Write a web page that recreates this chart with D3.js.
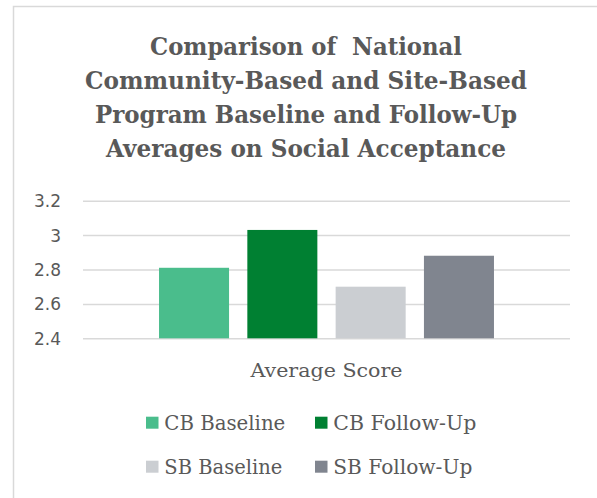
<!DOCTYPE html>
<html>
<head>
<meta charset="utf-8">
<script src="https://cdn.jsdelivr.net/npm/d3@7"></script>
<style>
  html, body { margin: 0; padding: 0; background: #ffffff; }
  svg { display: block; }
</style>
</head>
<body>
<svg id="chart" width="597" height="498"></svg>
<script>
// ---- data ----
const titleLines = [
  "Comparison of  National",
  "Community-Based and Site-Based",
  "Program Baseline and Follow-Up",
  "Averages on Social Acceptance"
];
const categories = ["Average Score"];
const seriesNames = ["CB Baseline", "CB Follow-Up", "SB Baseline", "SB Follow-Up"];
const seriesValues = [2.81, 3.03, 2.70, 2.88];
const seriesColors = ["#4abd8c", "#008032", "#cbced2", "#80858f"];
const tickValues = [2.4, 2.6, 2.8, 3.0, 3.2];
const tickLabels = ["2.4", "2.6", "2.8", "3", "3.2"];

// ---- layout ----
const W = 597, H = 498;
const textColor = "#595959";
const svg = d3.select("#chart");

svg.append("rect").attr("x", 0).attr("y", 0).attr("width", W).attr("height", H).attr("fill", "#fff");
// chart frame (extends past right and bottom edges)
svg.append("rect")
  .attr("x", 13.5).attr("y", 6.5).attr("width", 620).attr("height", 520)
  .attr("fill", "none").attr("stroke", "#d9d9d9").attr("stroke-width", 1.5);

// title
const titleWidths = [312, 442, 422, 400];
const titleG = svg.append("g");
titleLines.forEach((t, i) => {
  titleG.append("text")
    .attr("x", 306).attr("y", 54.5 + i * 34.2)
    .attr("text-anchor", "middle")
    .attr("font-family", "'DejaVu Serif', serif")
    .attr("font-weight", "bold")
    .attr("font-size", 25)
    .attr("fill", textColor)
    .attr("textLength", titleWidths[i])
    .attr("lengthAdjust", "spacingAndGlyphs")
    .style("white-space", "pre")
    .text(t);
});

// scales
const plot = { left: 83, right: 570, top: 200.7, bottom: 338.3 };
const y = d3.scaleLinear().domain([2.4, 3.2]).range([plot.bottom, plot.top]);
const x0 = d3.scaleBand().domain(categories).range([plot.left, plot.right]).paddingOuter(0.227).paddingInner(0);
const x1 = d3.scaleBand().domain(seriesNames).range([0, x0.bandwidth()]).paddingInner(0.207).paddingOuter(0);

// y axis + gridlines
const yAxis = d3.axisLeft(y)
  .tickValues(tickValues)
  .tickFormat((d, i) => tickLabels[i])
  .tickSize(-(plot.right - plot.left))
  .tickPadding(22);
const yg = svg.append("g").attr("transform", `translate(${plot.left},0)`).call(yAxis);
yg.select(".domain").remove();
yg.selectAll(".tick line").attr("stroke", "#d9d9d9").attr("stroke-width", 1.5);
yg.selectAll(".tick text")
  .attr("fill", textColor)
  .attr("font-family", "'DejaVu Sans', sans-serif")
  .attr("font-size", 17)
  .attr("dy", "0.35em");

// bars
const groups = svg.append("g").selectAll("g").data(categories).join("g")
  .attr("transform", d => `translate(${x0(d)},0)`);
groups.selectAll("rect")
  .data(() => seriesNames.map((s, i) => ({ s, v: seriesValues[i], c: seriesColors[i] })))
  .join("rect")
  .attr("x", d => x1(d.s))
  .attr("width", x1.bandwidth())
  .attr("y", d => y(d.v))
  .attr("height", d => y(2.4) - y(d.v))
  .attr("fill", d => d.c);

// category label
svg.append("g").selectAll("text").data(categories).join("text")
  .attr("x", d => x0(d) + x0.bandwidth() / 2)
  .attr("y", 376.7)
  .attr("text-anchor", "middle")
  .attr("font-family", "'DejaVu Serif', serif")
  .attr("font-size", 19)
  .attr("fill", textColor)
  .attr("textLength", 152)
  .attr("lengthAdjust", "spacingAndGlyphs")
  .text(d => d);

// legend
const legX = [146, 315];
const legY = [416.7, 460.7];
const legW = [121, 143, 118, 139];
const leg = svg.append("g").selectAll("g").data(seriesNames).join("g")
  .attr("transform", (d, i) => `translate(${legX[i % 2]},${legY[Math.floor(i / 2)]})`);
leg.append("rect")
  .attr("width", 12.5).attr("height", 12)
  .attr("fill", (d, i) => seriesColors[i]);
leg.append("text")
  .attr("x", 18.3).attr("y", 12.8)
  .attr("font-family", "'DejaVu Serif', serif")
  .attr("font-size", 19.5)
  .attr("fill", textColor)
  .attr("textLength", (d, i) => legW[i])
  .attr("lengthAdjust", "spacingAndGlyphs")
  .text(d => d);
</script>
</body>
</html>
